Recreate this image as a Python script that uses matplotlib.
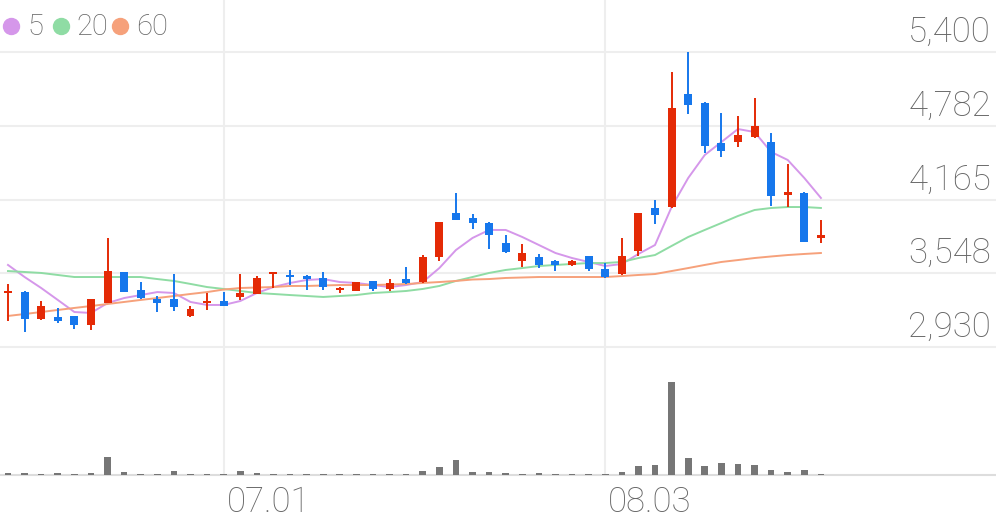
import numpy as np
import matplotlib.pyplot as plt

# 50 daily sessions (won)
opens = [3385, 3390, 3165, 3180, 3190, 3115, 3300, 3560, 3405, 3330,
         3330, 3190, 3295, 3315, 3350, 3375, 3540, 3535, 3525, 3510,
         3405, 3400, 3485, 3415, 3500, 3475, 3685, 4050, 4010, 3970,
         3800, 3650, 3685, 3650, 3615, 3690, 3585, 3540, 3735, 4095,
         4100, 5050, 4975, 4640, 4645, 4690, 4645, 4200, 4220, 3840]
highs = [3455, 3395, 3315, 3255, 3190, 3335, 3845, 3560, 3475, 3355,
         3540, 3275, 3380, 3390, 3540, 3525, 3560, 3575, 3530, 3560,
         3430, 3475, 3485, 3500, 3600, 3700, 3980, 4220, 4045, 3975,
         3870, 3790, 3710, 3655, 3655, 3695, 3635, 3845, 4055, 4160,
         5235, 5400, 4980, 4890, 4865, 5015, 4720, 4460, 4225, 3995]
lows = [3150, 3055, 3160, 3130, 3080, 3070, 3295, 3390, 3330, 3225,
        3230, 3180, 3240, 3270, 3325, 3370, 3425, 3450, 3405, 3405,
        3380, 3395, 3400, 3400, 3455, 3470, 3650, 3990, 3920, 3750,
        3715, 3600, 3590, 3565, 3605, 3565, 3505, 3530, 3690, 3960,
        4095, 4880, 4555, 4520, 4605, 4680, 4110, 4100, 3805, 3800]
closes = [3390, 3165, 3275, 3150, 3115, 3330, 3565, 3390, 3340, 3300,
          3265, 3250, 3300, 3275, 3380, 3510, 3560, 3515, 3500, 3430,
          3410, 3475, 3415, 3465, 3465, 3685, 3975, 3995, 3970, 3870,
          3725, 3715, 3615, 3615, 3650, 3585, 3515, 3690, 4050, 4035,
          4930, 4955, 4615, 4570, 4705, 4780, 4195, 4230, 3810, 3865]
volumes = [30, 30, 15, 30, 15, 30, 270, 45, 15, 15,
           60, 15, 15, 15, 60, 30, 15, 15, 15, 15,
           8, 15, 15, 15, 15, 60, 120, 225, 45, 45,
           30, 15, 30, 15, 15, 15, 15, 45, 135, 150,
           1395, 255, 135, 180, 165, 150, 75, 45, 75, 15]

ma5 = [3617, 3516, 3424, 3324, 3223, 3215, 3298, 3340, 3365, 3390,
       3382, 3307, 3282, 3282, 3315, 3382, 3432, 3466, 3491, 3499,
       3474, 3466, 3449, 3432, 3449, 3474, 3591, 3742, 3843, 3910,
       3910, 3851, 3784, 3717, 3675, 3642, 3608, 3625, 3709, 3784,
       4102, 4345, 4538, 4646, 4755, 4730, 4563, 4496, 4345, 4178]
ma20 = [3566, 3558, 3550, 3533, 3516, 3516, 3516, 3516, 3516, 3499,
        3483, 3458, 3432, 3416, 3399, 3382, 3374, 3365, 3357, 3349,
        3357, 3365, 3382, 3390, 3399, 3416, 3441, 3483, 3516, 3550,
        3575, 3591, 3608, 3617, 3625, 3633, 3633, 3642, 3675, 3700,
        3776, 3851, 3910, 3968, 4027, 4077, 4094, 4102, 4102, 4094]
ma60 = [3190, 3206, 3223, 3240, 3257, 3273, 3290, 3307, 3324, 3340,
        3357, 3374, 3390, 3411, 3424, 3428, 3432, 3441, 3441, 3445,
        3449, 3449, 3449, 3453, 3457, 3466, 3474, 3483, 3495, 3499,
        3508, 3512, 3516, 3516, 3516, 3516, 3516, 3524, 3533, 3541,
        3566, 3591, 3617, 3642, 3658, 3675, 3688, 3700, 3709, 3717]

price_ticks = [2930, 3547.5, 4165, 4782.5, 5400]
price_labels = ["2,930", "3,548", "4,165", "4,782", "5,400"]
date_ticks = [13, 36]
date_labels = ["07.01", "08.03"]
legend_labels = ["5", "20", "60"]

RED = "#e42a06"
BLUE = "#1677ec"
MA_COLORS = ["#d597ea", "#8fdca4", "#f6a17b"]
TEXT = "#666666"
GRID = "#eeeeee"

plt.rcParams['font.family'] = ['Roboto', 'DejaVu Sans']

fig = plt.figure(figsize=(9.96, 5.19), dpi=100)
ax = fig.add_axes([0, 172 / 519, 1, 347 / 519])
axv = fig.add_axes([0, 44 / 519, 1, 128 / 519], sharex=ax)

x = np.arange(len(closes))
o = np.array(opens)
c = np.array(closes)
colors = np.where(c >= o, RED, BLUE)

# grid
for p in price_ticks:
    ax.axhline(p, color=GRID, lw=1.5, zorder=0, clip_on=False)
for d in date_ticks:
    ax.axvline(d, color=GRID, lw=1.5, zorder=0)
    axv.axvline(d, color=GRID, lw=1.5, zorder=0)

# candles
ax.vlines(x, lows, highs, color=colors, lw=1.4, zorder=3)
body_h = np.maximum(np.abs(c - o), 18)
ax.bar(x, body_h, bottom=np.minimum(o, c), width=0.48, color=colors,
       linewidth=0, zorder=4)

# moving averages
for ma, col in zip([ma5, ma20, ma60], MA_COLORS):
    ax.plot(x, ma, color=col, lw=1.4, zorder=2)

ax.set_xlim(-8 / 16.59, 988 / 16.59)
ax.set_ylim(2930, 2930 + 347 * 2470 / 295)

for p, lab in zip(price_ticks, price_labels):
    ax.annotate(lab, xy=(1, p), xycoords=('axes fraction', 'data'),
                xytext=(-5, 10), textcoords='offset pixels',
                ha='right', va='baseline', fontsize=25, color=TEXT,
                fontweight='light')

# volume
axv.bar(x, volumes, width=0.4, color="#767676", zorder=3)
axv.set_ylim(0, max(volumes) * 128 / 93)
axv.axhline(0, color="#dddddd", lw=1.5, zorder=1, clip_on=False)
for d, lab in zip(date_ticks, date_labels):
    axv.annotate(lab, xy=(d, 0), xycoords=('data', 'axes fraction'),
                 xytext=(3, -37), textcoords='offset pixels',
                 ha='left', va='baseline', fontsize=25, color=TEXT,
                 fontweight='light')

for a in (ax, axv):
    a.set_xticks([])
    a.set_yticks([])
    for s in a.spines.values():
        s.set_visible(False)
    a.patch.set_alpha(0)

# legend
circle_x = [10.5, 60.5, 120]
text_x = [27, 76, 136]
for cx, tx, lab, col in zip(circle_x, text_x, legend_labels, MA_COLORS):
    fig.add_artist(plt.Line2D([cx / 996], [1 - 26 / 519], marker='o',
                              markersize=11.5, color=col, linestyle='none',
                              transform=fig.transFigure))
    fig.text(tx / 996, 1 - 35 / 519, lab, ha='left', va='baseline',
             fontsize=21, color=TEXT, fontweight='light')

fig.savefig("out.png", dpi=100)
